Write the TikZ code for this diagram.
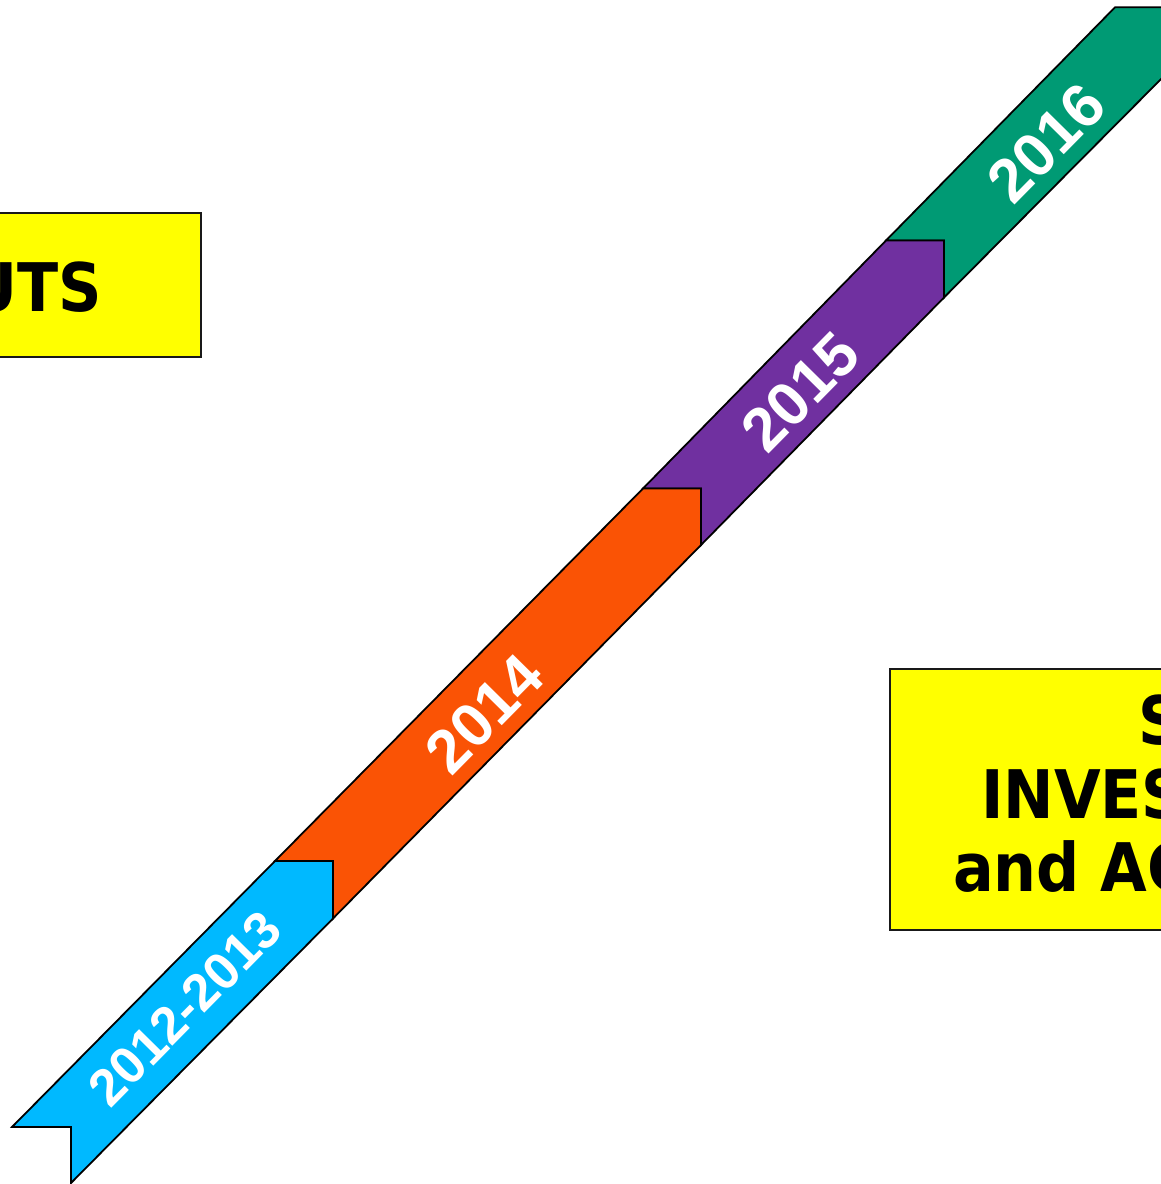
\documentclass[tikz,border=0pt]{standalone}
\usepackage{fontspec}
\newfontfamily\yearfont{Liberation Sans}
\newfontfamily\boxfont{DejaVu Sans Condensed}
\definecolor{cblue}{RGB}{0,185,255}
\definecolor{corange}{RGB}{250,83,5}
\definecolor{cpurple}{RGB}{112,48,160}
\definecolor{cgreen}{RGB}{0,154,116}
\definecolor{cyellow}{RGB}{255,255,0}
\tikzset{
  ribbon/.style={draw=black, line width=1.8pt, line join=miter},
  yeartext/.style={text=white, font=\yearfont\bfseries, inner sep=0pt, rotate=45.4, anchor=center},
  ybox/.style={draw=black!90, fill=cyellow, line width=2.2pt},
  boxtext/.style={text=black, font=\boxfont\bfseries\fontsize{67}{67}\selectfont, inner sep=0pt},
}
\begin{document}
\begin{tikzpicture}[x=1pt,y=-1pt]
\useasboundingbox (0,0) rectangle (1161,1184);
\clip (0,0) rectangle (1161,1184);
% yellow boxes
\draw[ybox] (-60,212.7) rectangle (201,357);
\node[boxtext, anchor=base east] (outl) at (102,311) {UTS};
\draw[ybox] (890,669.3) rectangle (1240,930);
\node[boxtext, anchor=base west] (r1) at (1138,744) {S};
\node[boxtext, anchor=base west] (r2) at (981,818.3) {INVES};
\node[boxtext, anchor=base west] (r3) at (953,891.7) {and AC};
% ribbon segments (later first so earlier ones lie on top)
\draw[ribbon, fill=cgreen] (886,240.5) -- (944,240.5) -- (944,297.5) -- (1173,67) -- (1173,7.3) -- (1115,7.3) -- cycle;
\draw[ribbon, fill=cpurple] (643,488.5) -- (701,488.5) -- (701,545) -- (944,297.5) -- (944,240.5) -- (886,240.5) -- cycle;
\draw[ribbon, fill=corange] (275,861) -- (333,861) -- (333,918.5) -- (701,545) -- (701,488.5) -- (643,488.5) -- cycle;
\draw[ribbon, fill=cblue] (12,1127) -- (71,1127) -- (71,1183) -- (333,918.5) -- (333,861) -- (275,861) -- cycle;
% year labels
\node[yeartext, font=\yearfont\bfseries\fontsize{52}{52}\selectfont] (y1) at (185,1008.5) {2012-2013};
\node[yeartext, font=\yearfont\bfseries\fontsize{61.5}{61.5}\selectfont] (y2) at (484.5,713.7) {2014};
\node[yeartext, font=\yearfont\bfseries\fontsize{61.5}{61.5}\selectfont] (y3) at (800,392) {2015};
\node[yeartext, font=\yearfont\bfseries\fontsize{61.5}{61.5}\selectfont] (y4) at (1046,143) {2016};
\end{tikzpicture}
\end{document}
